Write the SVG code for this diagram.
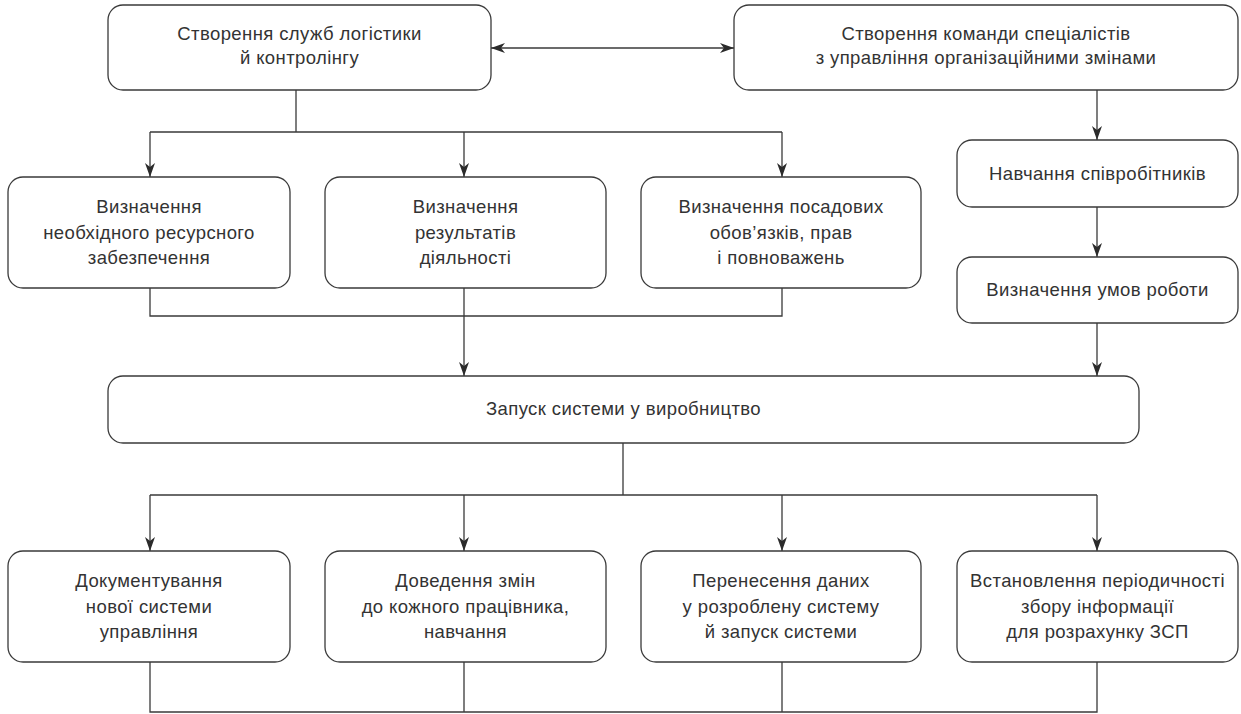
<svg xmlns="http://www.w3.org/2000/svg" width="1241" height="714" viewBox="0 0 1241 714">
<style>
.box{fill:#fff;stroke:#3a3a3a;stroke-width:1.3}
.t{font-family:"Liberation Sans",Arial,sans-serif;font-size:18.5px;letter-spacing:0.4px;fill:#333;text-anchor:middle}
.c{fill:none;stroke:#3a3a3a;stroke-width:1.3}
</style>
<defs>
<marker id="ah" viewBox="0 0 14 10" refX="14" refY="5" markerWidth="14" markerHeight="10" markerUnits="userSpaceOnUse" orient="auto-start-reverse">
<path d="M0,0 L14,5 L0,10 L4,5 z" fill="#2b2b2b"/>
</marker>
</defs>
<rect width="1241" height="714" fill="#fff"/>
<g id="connectors">
<path class="c" d="M491,48 H734" marker-start="url(#ah)" marker-end="url(#ah)"/>
<path class="c" d="M296,90 V132 M150,132 H782"/>
<path class="c" d="M150,132 V177" marker-end="url(#ah)"/>
<path class="c" d="M464,132 V177" marker-end="url(#ah)"/>
<path class="c" d="M782,132 V177" marker-end="url(#ah)"/>
<path class="c" d="M150,288 V316 H782 V288"/>
<path class="c" d="M464,288 V376" marker-end="url(#ah)"/>
<path class="c" d="M1097,90 V140" marker-end="url(#ah)"/>
<path class="c" d="M1097,207 V257" marker-end="url(#ah)"/>
<path class="c" d="M1097,323 V376" marker-end="url(#ah)"/>
<path class="c" d="M623,443 V495 M150,495 H1097"/>
<path class="c" d="M150,495 V551" marker-end="url(#ah)"/>
<path class="c" d="M464,495 V551" marker-end="url(#ah)"/>
<path class="c" d="M782,495 V551" marker-end="url(#ah)"/>
<path class="c" d="M1097,495 V551" marker-end="url(#ah)"/>
<path class="c" d="M150,662 V712 H1097 V662 M464,662 V712 M782,662 V712"/>
</g>
<g id="n1"><rect class="box" x="108" y="5" width="383" height="85" rx="15"/>
<text class="t" x="299.5" y="40">Створення служб логістики</text>
<text class="t" x="299.5" y="63.5">й контролінгу</text></g>
<g id="n2"><rect class="box" x="734" y="5" width="504" height="85" rx="15"/>
<text class="t" x="986" y="40">Створення команди спеціалістів</text>
<text class="t" x="986" y="63.5">з управління організаційними змінами</text></g>
<g id="n3"><rect class="box" x="8" y="177" width="282" height="111" rx="15"/>
<text class="t" x="149" y="213">Визначення</text>
<text class="t" x="149" y="238.5">необхідного ресурсного</text>
<text class="t" x="149" y="264">забезпечення</text></g>
<g id="n4"><rect class="box" x="325" y="177" width="281" height="111" rx="15"/>
<text class="t" x="465.5" y="213">Визначення</text>
<text class="t" x="465.5" y="238.5">результатів</text>
<text class="t" x="465.5" y="264">діяльності</text></g>
<g id="n5"><rect class="box" x="641" y="177" width="280" height="111" rx="15"/>
<text class="t" x="781" y="213">Визначення посадових</text>
<text class="t" x="781" y="238.5">обов’язків, прав</text>
<text class="t" x="781" y="264">і повноважень</text></g>
<g id="n6"><rect class="box" x="957" y="140" width="281" height="67" rx="15"/>
<text class="t" x="1097.5" y="180">Навчання співробітників</text></g>
<g id="n7"><rect class="box" x="957" y="257" width="281" height="66" rx="15"/>
<text class="t" x="1097.5" y="296">Визначення умов роботи</text></g>
<g id="n8"><rect class="box" x="108" y="376" width="1031" height="67" rx="15"/>
<text class="t" x="623.5" y="415">Запуск системи у виробництво</text></g>
<g id="n9"><rect class="box" x="8" y="551" width="282" height="111" rx="15"/>
<text class="t" x="149" y="587">Документування</text>
<text class="t" x="149" y="612.5">нової системи</text>
<text class="t" x="149" y="638">управління</text></g>
<g id="n10"><rect class="box" x="325" y="551" width="281" height="111" rx="15"/>
<text class="t" x="465.5" y="587">Доведення змін</text>
<text class="t" x="465.5" y="612.5">до кожного працівника,</text>
<text class="t" x="465.5" y="638">навчання</text></g>
<g id="n11"><rect class="box" x="641" y="551" width="280" height="111" rx="15"/>
<text class="t" x="781" y="587">Перенесення даних</text>
<text class="t" x="781" y="612.5">у розроблену систему</text>
<text class="t" x="781" y="638">й запуск системи</text></g>
<g id="n12"><rect class="box" x="957" y="551" width="281" height="111" rx="15"/>
<text class="t" x="1097.5" y="587">Встановлення періодичності</text>
<text class="t" x="1097.5" y="612.5">збору інформації</text>
<text class="t" x="1097.5" y="638">для розрахунку ЗСП</text></g>
</svg>
